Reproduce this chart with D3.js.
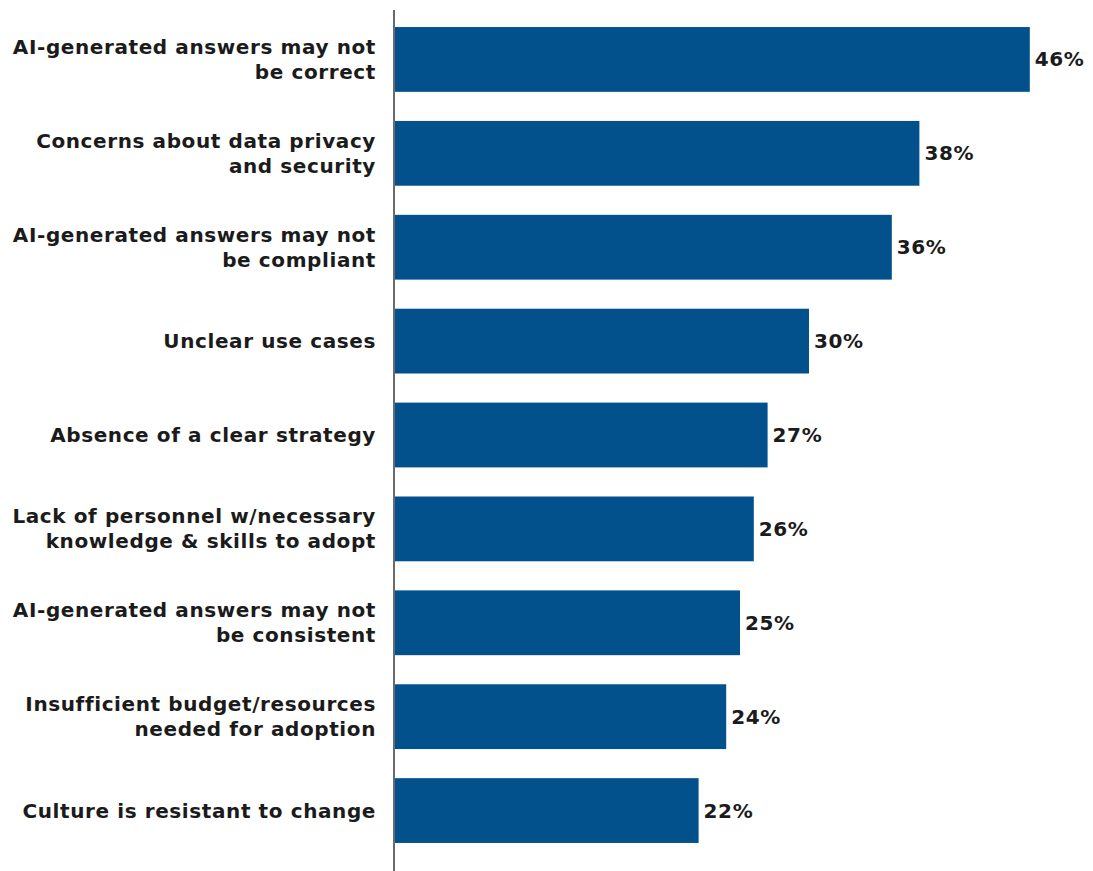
<!DOCTYPE html>
<html>
<head>
<meta charset="utf-8">
<script src="https://cdn.jsdelivr.net/npm/d3@7"></script>
<style>
  html, body { margin: 0; padding: 0; background: #fff; }
  svg { display: block; }
</style>
</head>
<body>
<div id="chart"></div>
<script>
// Barriers to adoption, share of respondents (%)
const categories = [
  ["AI-generated answers may not", "be correct"],
  ["Concerns about data privacy", "and security"],
  ["AI-generated answers may not", "be compliant"],
  ["Unclear use cases"],
  ["Absence of a clear strategy"],
  ["Lack of personnel w/necessary", "knowledge & skills to adopt"],
  ["AI-generated answers may not", "be consistent"],
  ["Insufficient budget/resources", "needed for adoption"],
  ["Culture is resistant to change"]
];
const values = [46, 38, 36, 30, 27, 26, 25, 24, 22];

const W = 1093, H = 871;
const svg = d3.select("#chart").append("svg")
  .attr("width", W).attr("height", H);

const axisX = 395;
const x = d3.scaleLinear().domain([0, 50]).range([axisX, axisX + 690]);
const y = d3.scaleBand()
  .domain(d3.range(categories.length))
  .range([12.5, 857.5])
  .paddingInner(0.31)
  .paddingOuter(0.155);

const font = "'DejaVu Sans', sans-serif";

// bars
svg.append("g").selectAll("rect")
  .data(values)
  .join("rect")
  .attr("x", x(0))
  .attr("y", (d, i) => y(i))
  .attr("width", d => x(d) - x(0))
  .attr("height", y.bandwidth())
  .attr("fill", "#02508c");

// vertical axis line
svg.append("line")
  .attr("x1", axisX - 1).attr("x2", axisX - 1)
  .attr("y1", 10).attr("y2", H)
  .attr("stroke", "#6b6b6b").attr("stroke-width", 2);

// category labels
const labels = svg.append("g")
  .attr("font-family", font)
  .attr("font-weight", "bold")
  .attr("font-size", 20)
  .attr("letter-spacing", 0.6)
  .attr("fill", "#1b1b1b")
  .attr("text-anchor", "end");

categories.forEach((lines, i) => {
  const cy = y(i) + y.bandwidth() / 2;
  const lh = 25;
  const t = labels.append("text")
    .attr("x", 376)
    .attr("y", cy - (lines.length - 1) * lh / 2)
    .attr("dominant-baseline", "central");
  lines.forEach((s, j) => {
    t.append("tspan")
      .attr("x", 376)
      .attr("dy", j === 0 ? 0 : lh)
      .text(s);
  });
});

// value labels
svg.append("g")
  .attr("font-family", font)
  .attr("font-weight", "bold")
  .attr("font-size", 20)
  .attr("letter-spacing", 0.6)
  .attr("fill", "#1b1b1b")
  .selectAll("text")
  .data(values)
  .join("text")
  .attr("x", d => x(d) + 5)
  .attr("y", (d, i) => y(i) + y.bandwidth() / 2)
  .attr("dominant-baseline", "central")
  .text(d => d + "%");
</script>
</body>
</html>
